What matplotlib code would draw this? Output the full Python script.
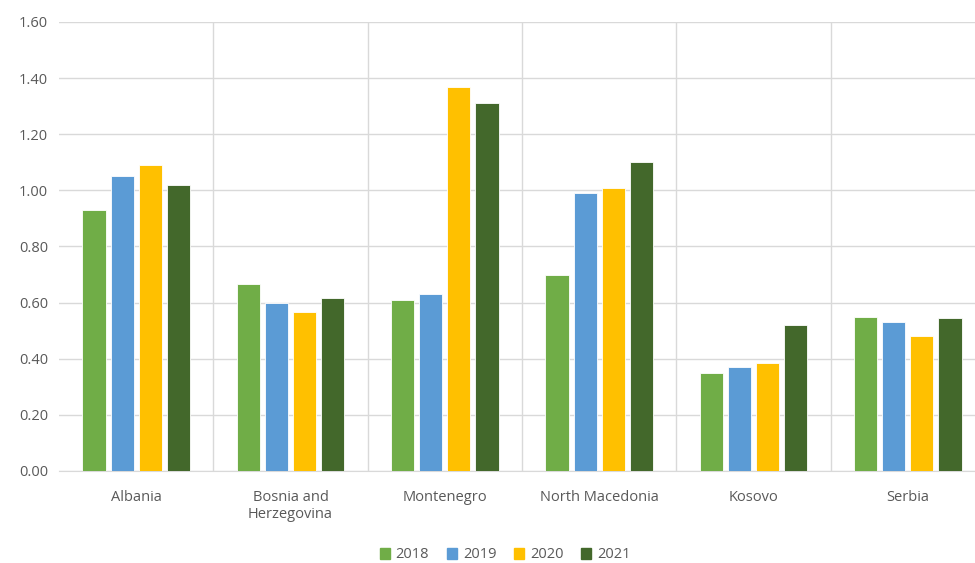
import numpy as np
import matplotlib.pyplot as plt
from matplotlib.patches import Patch

countries = ['Albania', 'Bosnia and\nHerzegovina', 'Montenegro', 'North Macedonia', 'Kosovo', 'Serbia']
years = ['2018', '2019', '2020', '2021']

v2018 = [0.93, 0.665, 0.61, 0.70, 0.35, 0.55]
v2019 = [1.05, 0.60, 0.63, 0.99, 0.37, 0.53]
v2020 = [1.09, 0.565, 1.37, 1.01, 0.385, 0.48]
v2021 = [1.02, 0.615, 1.31, 1.10, 0.52, 0.545]

colors = ['#70AD47', '#5B9BD5', '#FFC000', '#43682B']

plt.rcParams['font.family'] = ['Open Sans', 'DejaVu Sans']

fig = plt.figure(figsize=(9.75, 5.63), dpi=100)
ax = fig.add_axes([59/975, 92/563, 926/975, 449/563])

x = np.arange(len(countries))
width = 0.15
step = 0.182
for i, vals in enumerate([v2018, v2019, v2020, v2021]):
    ax.bar(x + (i - 1.5) * step, vals, width, color=colors[i], edgecolor='white', linewidth=0.6, zorder=3)

ax.set_xlim(-0.5, len(countries) - 0.5)
ax.set_ylim(0, 1.6)
ax.set_yticks(np.arange(0, 1.61, 0.2))
ax.set_yticklabels(['%.2f' % t for t in np.arange(0, 1.61, 0.2)], fontsize=10.5, color='#595959')
ax.set_xticks(x)
ax.set_xticklabels(countries, fontsize=10.5, color='#595959', linespacing=1.1, va='top')
ax.tick_params(axis='both', length=0, pad=8)
ax.tick_params(axis='x', pad=14)

ax.grid(axis='y', color='#D9D9D9', linewidth=1, zorder=0)
for b in np.arange(0.5, len(countries) - 0.5, 1):
    ax.axvline(b, color='#D9D9D9', linewidth=1, zorder=0)
for s in ['top', 'right', 'left']:
    ax.spines[s].set_visible(False)
ax.spines['bottom'].set_color('#D9D9D9')

handles = [Patch(color=c, label=y) for c, y in zip(colors, years)]
fig.legend(handles=handles, loc='center', bbox_to_anchor=(505/975, 1 - 555/563), ncol=4, frameon=False,
           fontsize=10.5, handlelength=0.7, handleheight=0.7, handletextpad=0.4, columnspacing=1.2,
           labelcolor='#595959')

fig.savefig('out.png', dpi=100)
